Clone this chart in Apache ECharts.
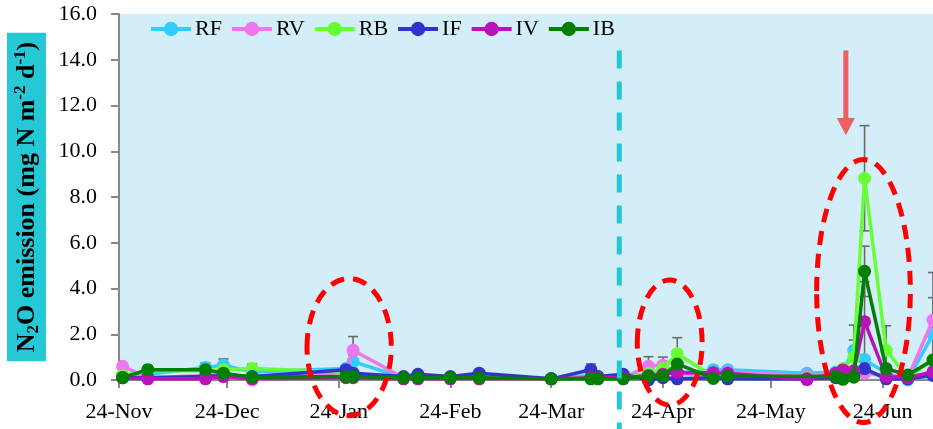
<!DOCTYPE html>
<html><head><meta charset="utf-8">
<script src="https://cdn.jsdelivr.net/npm/echarts@6/dist/echarts.min.js"></script>
<style>html,body{margin:0;padding:0;background:#fff}#c{width:933px;height:429px}</style>
</head><body><div id="c"></div>
<script>
// Sampling dates, as days after 24-Nov
const dayOffsets = [1, 8, 24, 29, 37, 63, 65, 79, 83, 92, 100, 120, 131, 133, 140, 147, 151, 155, 165, 169, 191, 199, 201, 204, 207, 213, 219, 226];
const tickDays = [0, 30, 61, 92, 120, 151, 181, 212];
const tickLabels = ['24-Nov', '24-Dec', '24-Jan', '24-Feb', '24-Mar', '24-Apr', '24-May', '24-Jun'];
const seriesNames = ['RF', 'RV', 'RB', 'IF', 'IV', 'IB'];

const RF = [0.2, 0.25, 0.55, 0.65, 0.35, 0.5, 0.8, 0.1, 0.15, 0.1, 0.15, 0.05, 0.2, 0.15, 0.15, 0.25, 0.3, 0.3, 0.45, 0.45, 0.3, 0.35, 0.4, 1.3, 0.9, 0.3, 0.0, 2.0];
const RV = [0.6, 0.1, 0.2, 0.3, 0.0, 0.35, 1.3, 0.1, 0.1, 0.1, 0.1, 0.05, 0.1, 0.1, 0.1, 0.6, 0.65, 0.3, 0.2, 0.35, 0.2, 0.3, 0.4, 0.4, 0.3, 0.2, 0.1, 2.62];
const RB = [0.2, 0.4, 0.4, 0.45, 0.5, 0.35, 0.3, 0.05, 0.1, 0.05, 0.05, 0.05, 0.1, 0.1, 0.1, 0.3, 0.5, 1.15, 0.15, 0.05, 0.1, 0.2, 0.5, 1.0, 8.82, 1.3, 0.1, 0.9];
const IF = [0.1, 0.1, 0.15, 0.2, 0.15, 0.45, 0.3, 0.15, 0.25, 0.15, 0.3, 0.05, 0.45, 0.15, 0.25, 0.0, 0.1, 0.05, 0.1, 0.05, 0.05, 0.1, 0.15, 0.2, 0.5, 0.05, 0.05, 0.2];
const IV = [0.1, 0.05, 0.05, 0.15, 0.05, 0.1, 0.1, 0.05, 0.05, 0.05, 0.05, 0.05, 0.1, 0.1, 0.1, 0.2, 0.25, 0.33, 0.32, 0.3, 0.02, 0.3, 0.44, 0.4, 2.55, 0.15, 0.1, 0.36];
const IB = [0.1, 0.45, 0.45, 0.3, 0.12, 0.15, 0.15, 0.1, 0.1, 0.1, 0.1, 0.05, 0.05, 0.05, 0.05, 0.15, 0.18, 0.7, 0.07, 0.17, null, 0.15, 0.03, 0.12, 4.75, 0.5, 0.22, 0.87];

// Standard errors (0 = no bar)
const RF_err = [0, 0, 0.2, 0.27, 0, 0, 0.3, 0, 0, 0, 0, 0, 0, 0, 0, 0, 0, 0, 0, 0, 0, 0, 0, 1.1, 0, 0, 0, 1.6];
const RV_err = [0, 0, 0, 0, 0, 0, 0.6, 0, 0, 0, 0, 0, 0, 0, 0, 0.42, 0.35, 0, 0, 0, 0, 0, 0, 0, 0, 0, 0, 2.08];
const RB_err = [0, 0, 0, 0, 0.2, 0, 0, 0, 0, 0, 0, 0, 0, 0, 0, 0, 0, 0.7, 0, 0, 0, 0, 0, 0.75, 2.3, 1.07, 0, 0];
const IF_err = [0, 0, 0, 0, 0, 0, 0, 0, 0, 0, 0, 0, 0.25, 0, 0, 0, 0, 0, 0, 0, 0, 0, 0, 0, 0, 0, 0, 0];
const IV_err = [0, 0, 0, 0, 0, 0, 0, 0, 0, 0, 0, 0, 0, 0, 0, 0, 0, 0, 0, 0, 0, 0, 0, 0, 1.75, 0, 0, 0];
const IB_err = [0, 0, 0, 0, 0, 0, 0, 0, 0, 0, 0, 0, 0, 0, 0, 0, 0, 0, 0, 0, 0, 0, 0, 0, 1.1, 0, 0, 0];

const values = [RF, RV, RB, IF, IV, IB];
const errors = [RF_err, RV_err, RB_err, IF_err, IV_err, IB_err];
const colors = ['#33CCFF', '#EE77EE', '#66FF33', '#3333CC', '#BB11BB', '#007F00'];

const FONT = "'Liberation Serif','Times New Roman',serif";

const chart = echarts.init(document.getElementById('c'), null, {renderer: 'canvas'});

function renderErr(params, api) {
  const x = api.value(0), y = api.value(1), e = api.value(2);
  const top = api.coord([x, y + e]), bot = api.coord([x, y - e]);
  const hw = 5;
  const st = {stroke: '#6a6a6a', lineWidth: 1.6};
  return {type: 'group', children: [
    {type: 'line', shape: {x1: top[0], y1: top[1], x2: bot[0], y2: bot[1]}, style: st},
    {type: 'line', shape: {x1: top[0] - hw, y1: top[1], x2: top[0] + hw, y2: top[1]}, style: st},
    {type: 'line', shape: {x1: bot[0] - hw, y1: bot[1], x2: bot[0] + hw, y2: bot[1]}, style: st}
  ]};
}

const series = [];
seriesNames.forEach((n, k) => {
  const ed = [];
  dayOffsets.forEach((d, i) => { if (errors[k][i] > 0 && values[k][i] != null) ed.push([d, values[k][i], errors[k][i]]); });
  series.push({type: 'custom', name: n + '_err', renderItem: renderErr, data: ed, z: 1, silent: true, clip: false});
});
seriesNames.forEach((n, k) => {
  series.push({
    type: 'line', name: n, z: 2 + k,
    data: dayOffsets.map((d, i) => [d, values[k][i]]),
    connectNulls: true,
    symbol: 'circle', symbolSize: 13, showSymbol: true,
    color: colors[k],
    lineStyle: {width: 3.5, color: colors[k]},
    itemStyle: {color: colors[k]},
    emphasis: {disabled: true}
  });
});

chart.setOption({
  animation: false,
  backgroundColor: '#ffffff',
  textStyle: {fontFamily: FONT},
  grid: {left: 119, top: 14, right: 0, bottom: 49, show: true, backgroundColor: '#D3EEF8', borderWidth: 0,
    containLabel: false, outerBoundsMode: 'none'},
  legend: {
    data: seriesNames, left: 149, top: 18, padding: 0, itemWidth: 40, itemHeight: 18, itemGap: 8,
    lineStyle: {width: 4},
    textStyle: {fontFamily: FONT, fontSize: 22, color: '#000', padding: [0, 0, 0, -1]}
  },
  xAxis: {
    type: 'value', min: 0, max: 226,
    axisLine: {show: true, lineStyle: {color: '#888', width: 2}},
    axisTick: {show: true, customValues: tickDays, length: 8, lineStyle: {color: '#888', width: 2}},
    axisLabel: {customValues: tickDays, formatter: v => tickLabels[tickDays.indexOf(v)] || '', fontFamily: FONT, fontSize: 22, color: '#000', margin: 21},
    splitLine: {show: false}
  },
  yAxis: {
    type: 'value', min: 0, max: 16, interval: 2,
    axisLine: {show: true, lineStyle: {color: '#888', width: 2}},
    axisTick: {show: true, length: 8, lineStyle: {color: '#888', width: 2}},
    axisLabel: {formatter: v => v.toFixed(1), fontFamily: FONT, fontSize: 22, color: '#000', margin: 22},
    splitLine: {show: false},
    name: '{t|N}{s|2}{t|O emission (mg N m}{p|-2}{t| d}{p|-1}{t|)}',
    nameLocation: 'middle', nameGap: 73,
    nameTextStyle: {
      backgroundColor: '#25C9D5', padding: [5, 9, 4, 9],
      rich: {
        t: {fontFamily: FONT, fontSize: 26, fontWeight: 'bold', color: '#000', lineHeight: 30, verticalAlign: 'middle'},
        s: {fontFamily: FONT, fontSize: 17, fontWeight: 'bold', color: '#000', lineHeight: 17, verticalAlign: 'bottom'},
        p: {fontFamily: FONT, fontSize: 17, fontWeight: 'bold', color: '#000', lineHeight: 17, verticalAlign: 'top'}
      }
    }
  },
  series: series
});

// Annotations, placed in data coordinates
const ellipses = [
  {day: 63.9, val: 1.44, rDays: 11.7, rVal: 3.0},
  {day: 152.9, val: 1.64, rDays: 9.0, rVal: 2.73},
  {day: 206.7, val: 3.89, rDays: 13.0, rVal: 5.75}
];
const divider = {day: 138.9, from: 14.4, to: -2.2};
const arrow = {day: 201.8, from: 14.4, to: 10.7, headLen: 0.75};

const px = (d, v) => chart.convertToPixel({gridIndex: 0}, [d, v]);
const g = [];
ellipses.forEach(e => {
  const c = px(e.day, e.val);
  const r1 = px(e.day + e.rDays, e.val + e.rVal);
  g.push({type: 'ellipse', shape: {cx: c[0], cy: c[1], rx: Math.abs(r1[0] - c[0]), ry: Math.abs(r1[1] - c[1])},
    style: {fill: 'none', stroke: '#FF0000', lineWidth: 5, lineDash: [14, 9]}, z: 100});
});
const dA = px(divider.day, divider.from), dB = px(divider.day, divider.to);
g.push({type: 'line', shape: {x1: dA[0], y1: dA[1], x2: dB[0], y2: dB[1]},
  style: {stroke: '#22C8D6', lineWidth: 5, lineDash: [18, 13]}, z: 99});
const aT = px(arrow.day, arrow.from), aTip = px(arrow.day, arrow.to), aH = px(arrow.day, arrow.to + arrow.headLen);
g.push({type: 'polygon', shape: {points: [
  [aT[0] - 2.5, aT[1]], [aT[0] + 2.5, aT[1]], [aT[0] + 2.5, aH[1]], [aT[0] + 9, aH[1]], [aTip[0], aTip[1]], [aT[0] - 9, aH[1]], [aT[0] - 2.5, aH[1]]
]}, style: {fill: 'rgba(238,80,80,0.9)'}, z: 101});
chart.setOption({graphic: g});
</script>
</body></html>
